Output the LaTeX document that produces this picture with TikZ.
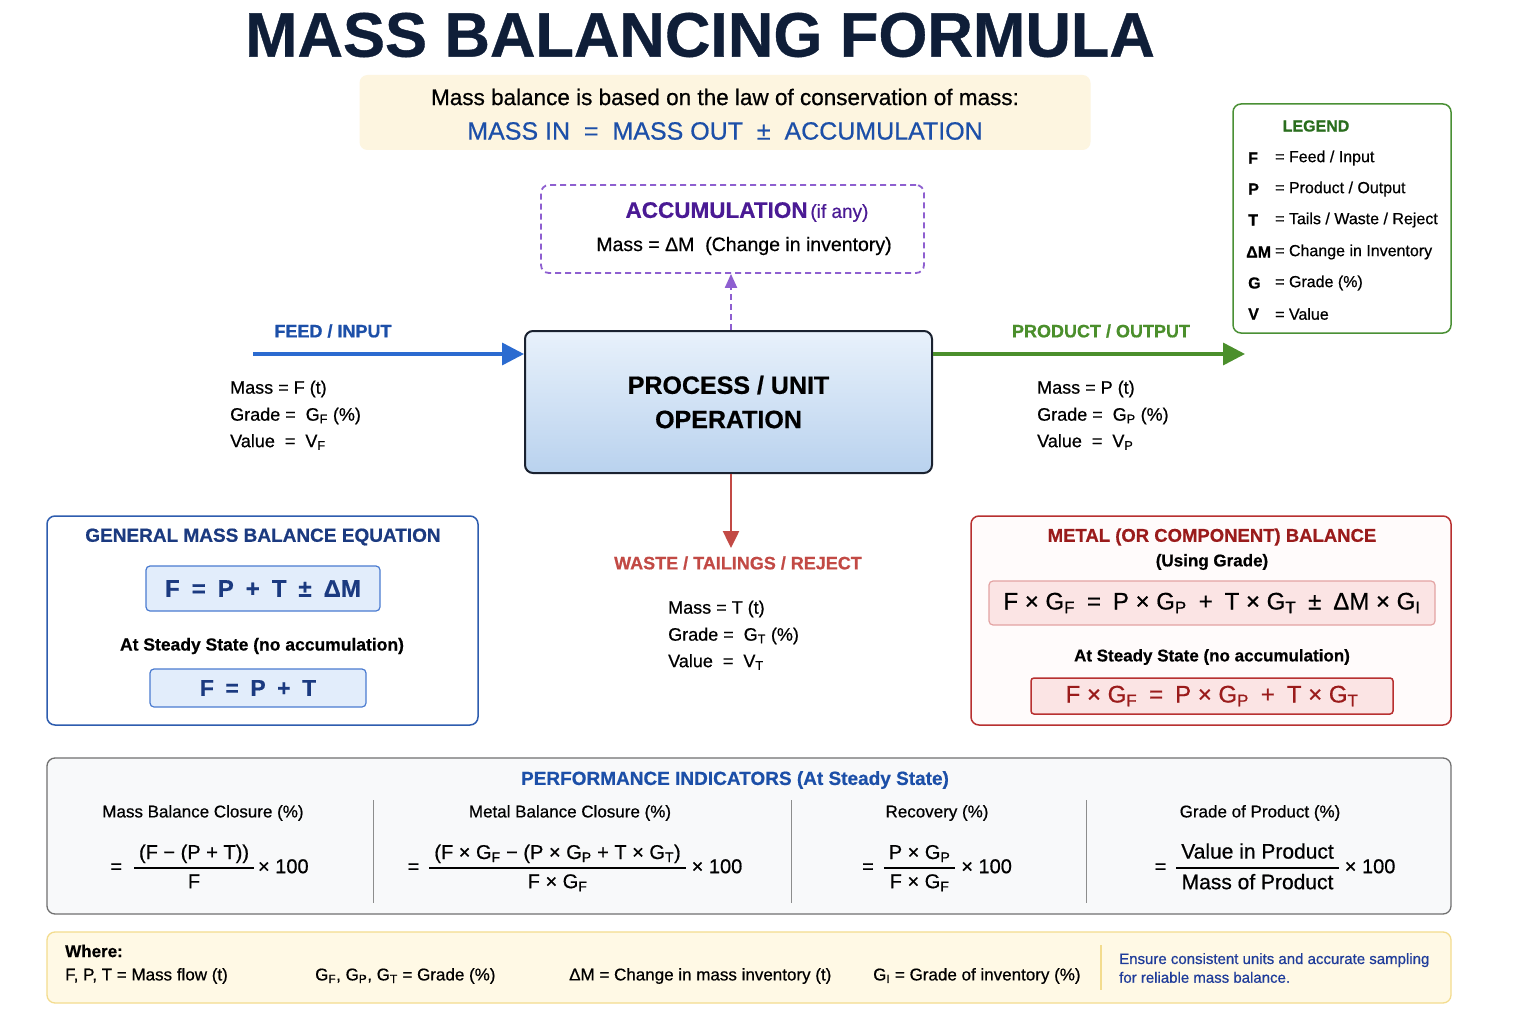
\documentclass[tikz,border=0pt]{standalone}
\usepackage{fontspec}
\setmainfont{Liberation Sans}[FakeBold=0.6]
\usetikzlibrary{arrows.meta}
\newcommand\fsz[1]{\fontsize{#1}{#1}\selectfont\setlength\baselineskip{1.25\baselineskip}}
\newcommand\sep{\hspace{0.5em}}
\setlength{\tabcolsep}{5pt}
\setlength{\arrayrulewidth}{1.2pt}
\renewcommand{\arraystretch}{1.4}
\definecolor{titlenavy}{HTML}{0F1E38}
\definecolor{cream}{HTML}{FDF5E0}
\definecolor{mblue}{HTML}{1C4FA8}
\definecolor{lgreen}{HTML}{4A9035}
\definecolor{dgreen}{HTML}{2A6E1E}
\definecolor{accpurple}{HTML}{8E5FD0}
\definecolor{dpurple}{HTML}{4A1A94}
\definecolor{procborder}{HTML}{1A2230}
\definecolor{proctop}{HTML}{E8F1FB}
\definecolor{procbot}{HTML}{B9D2EE}
\definecolor{feedblue}{HTML}{2B6BD0}
\definecolor{prodgreen}{HTML}{4B8F2C}
\definecolor{wastered}{HTML}{C24A45}
\definecolor{genblue}{HTML}{2E5DAF}
\definecolor{gennavy}{HTML}{1B3A80}
\definecolor{geninner}{HTML}{E2EDFB}
\definecolor{geninnerb}{HTML}{4A7BD0}
\definecolor{metred}{HTML}{B83030}
\definecolor{metdark}{HTML}{9A1B1B}
\definecolor{metinner}{HTML}{FBE4E4}
\definecolor{metinnerb}{HTML}{E3A3A3}
\definecolor{metfill}{HTML}{FFFBFB}
\definecolor{perfgray}{HTML}{707070}
\definecolor{perffill}{HTML}{F8F9FA}
\definecolor{wherefill}{HTML}{FFF9E5}
\definecolor{whereborder}{HTML}{F3DC8E}
\definecolor{noteblue}{HTML}{1F3C9A}
\begin{document}
\begin{tikzpicture}[x=1pt,y=-1pt,
  box/.style={rounded corners=8pt, inner sep=0pt, line width=1.5pt},
  txt/.style={inner sep=0pt},
  flow/.style={line width=3.5pt, -{Triangle[length=22pt,width=22pt]}},
  divider/.style={draw=perfgray!80, line width=1pt},
  lst/.style={inner sep=0pt, anchor=west, font=\fsz{18}},
  leg/.style={inner sep=0pt, anchor=west, font=\fsz{16}},
  legk/.style={inner sep=0pt, anchor=west, font=\bfseries\fsz{16}},
  coltitle/.style={inner sep=0pt, font=\fsz{17}},
  fracnode/.style={inner sep=0pt, font=\fsz{20}},
  wh/.style={inner sep=0pt, anchor=west, font=\fsz{17}}
]
\useasboundingbox[fill=white] (0,0) rectangle (1536,1024);

% title
\node[txt, font=\bfseries\fsz{63}, text=titlenavy] (title) at (700,35) {MASS BALANCING FORMULA};

% intro
\node[box, fill=cream, draw=none, minimum width=731pt, minimum height=75pt] (intro) at (725,112.5) {};
\node[txt, font=\fsz{22.5}] (introtext) at (725,97) {Mass balance is based on the law of conservation of mass:};
\node[txt, font=\fsz{25}, text=mblue] (introeq) at (725,131) {MASS IN\ \ =\ \ MASS OUT\ \ ±\ \ ACCUMULATION};

% legend
\node[box, draw=lgreen, fill=white, minimum width=218pt, minimum height=229pt] (legend) at (1342,218.5) {};
\node[txt, font=\bfseries\fsz{16}, text=dgreen] (legtitle) at (1316,126) {LEGEND};
\node[legk] (kF) at (1248,158) {F};
\node[leg] (vF) at (1275,158) {= Feed / Input};
\node[legk] (kP) at (1248,189) {P};
\node[leg] (vP) at (1275,189) {= Product / Output};
\node[legk] (kT) at (1248,220) {T};
\node[leg] (vT) at (1275,220) {= Tails / Waste / Reject};
\node[legk] (kM) at (1246,252) {ΔM};
\node[leg] (vM) at (1275,252) {= Change in Inventory};
\node[legk] (kG) at (1248,283) {G};
\node[leg] (vG) at (1275,283) {= Grade (\%)};
\node[legk] (kV) at (1248,314) {V};
\node[leg] (vV) at (1275,314) {= Value};

% accumulation
\node[box, draw=accpurple, dash pattern=on 6pt off 4pt, line width=1.8pt, minimum width=383pt, minimum height=88pt] (acc) at (732.5,229) {};
\node[txt, text=dpurple] (acctitle) at (747,212) {{\bfseries\fsz{22.5}ACCUMULATION} {\fsz{19}(if any)}};
\node[txt, font=\fsz{19.5}] (acctext) at (744,246) {Mass\ =\ ΔM\ \ (Change in inventory)};

% process
\node[box, draw=procborder, line width=2pt, top color=proctop, bottom color=procbot, minimum width=407pt, minimum height=142pt, align=center, font=\bfseries\fsz{25}] (proc) at (728.5,402) {PROCESS / UNIT\\[3pt]OPERATION};

% arrows
\coordinate (feedstart) at (253,354);
\draw[flow, feedblue] (feedstart) -- (proc.west |- feedstart);
\coordinate (prodend) at (1245,354);
\draw[flow, prodgreen] (proc.east |- prodend) -- (prodend);
\coordinate (wasteend) at (731,548);
\draw[wastered, line width=2.5pt, -{Triangle[length=17pt,width=16pt]}] (proc.south -| wasteend) -- (wasteend);
\coordinate (accx) at (731,300);
\draw[accpurple, line width=2pt, dash pattern=on 6pt off 4pt, -{Triangle[length=14pt,width=12pt]}] (proc.north -| accx) -- (acc.south -| accx);

% stream labels
\node[txt, font=\bfseries\fsz{18}, text=mblue] (feedlbl) at (333,331) {FEED / INPUT};
\node[txt, font=\bfseries\fsz{18}, text=prodgreen] (prodlbl) at (1101,331) {PRODUCT / OUTPUT};
\node[txt, font=\bfseries\fsz{18}, text=wastered] (wastelbl) at (738,563) {WASTE / TAILINGS / REJECT};

\node[lst] (fm) at (230,389) {Mass = F (t)};
\node[lst] (fg) at (230,416) {Grade =\ \ G\textsubscript{F} (\%)};
\node[lst] (fv) at (230,442) {Value\ \ =\ \ V\textsubscript{F}};
\node[lst] (pm) at (1037,389) {Mass = P (t)};
\node[lst] (pg) at (1037,416) {Grade =\ \ G\textsubscript{P} (\%)};
\node[lst] (pv) at (1037,442) {Value\ \ =\ \ V\textsubscript{P}};
\node[lst] (tm) at (668,609) {Mass = T (t)};
\node[lst] (tg) at (668,636) {Grade =\ \ G\textsubscript{T} (\%)};
\node[lst] (tv) at (668,662) {Value\ \ =\ \ V\textsubscript{T}};

% general box
\node[box, draw=genblue, fill=white, minimum width=431pt, minimum height=209pt] (genbox) at (262.5,620.5) {};
\node[txt, font=\bfseries\fsz{19}, text=gennavy] (gentitle) at (263,537) {GENERAL MASS BALANCE EQUATION};
\node[box, rounded corners=4pt, line width=1.2pt, draw=geninnerb, fill=geninner, minimum width=234pt, minimum height=45pt, font=\bfseries\fsz{24}, text=gennavy] (geneq) at (263,588.5) {F\sep=\sep P\sep+\sep T\sep±\sep ΔM};
\node[txt, font=\bfseries\fsz{17.5}] (genss) at (262,646) {At Steady State (no accumulation)};
\node[box, rounded corners=4pt, line width=1.2pt, draw=geninnerb, fill=geninner, minimum width=216pt, minimum height=38pt, font=\bfseries\fsz{23}, text=gennavy] (geneq2) at (258,688) {F\sep=\sep P\sep+\sep T};

% metal box
\node[box, draw=metred, fill=metfill, minimum width=480pt, minimum height=209pt] (metbox) at (1211,620.5) {};
\node[txt, font=\bfseries\fsz{18.5}, text=metdark] (mettitle) at (1212,537) {METAL (OR COMPONENT) BALANCE};
\node[txt, font=\bfseries\fsz{17}] (metsub) at (1212,562) {(Using Grade)};
\node[box, rounded corners=4pt, line width=1.2pt, draw=metinnerb, fill=metinner, minimum width=446pt, minimum height=44pt, font=\fsz{24}] (meteq) at (1212,603) {F × G\textsubscript{F}\sep=\sep P × G\textsubscript{P}\sep+\sep T × G\textsubscript{T}\sep±\sep ΔM × G\textsubscript{I}};
\node[txt, font=\bfseries\fsz{17}] (metss) at (1212,657) {At Steady State (no accumulation)};
\node[box, rounded corners=3pt, line width=1.5pt, draw=metred, fill=metinner, minimum width=362pt, minimum height=36pt, font=\fsz{24}, text=metdark] (meteq2) at (1212,696) {F × G\textsubscript{F}\sep=\sep P × G\textsubscript{P}\sep+\sep T × G\textsubscript{T}};

% performance indicators
\node[box, draw=perfgray, line width=1.3pt, fill=perffill, minimum width=1404pt, minimum height=156pt] (perf) at (749,836) {};
\node[txt, font=\bfseries\fsz{19}, text=mblue] (perftitle) at (735,780) {PERFORMANCE INDICATORS (At Steady State)};
\coordinate (d1t) at (373,800); \coordinate (d1b) at (373,903);
\coordinate (d2t) at (791,800); \coordinate (d2b) at (791,903);
\coordinate (d3t) at (1086,800); \coordinate (d3b) at (1086,903);
\draw[divider] (d1t) -- (d1b);
\draw[divider] (d2t) -- (d2b);
\draw[divider] (d3t) -- (d3b);

\node[coltitle] (c1t) at (203,813) {Mass Balance Closure (\%)};
\node[coltitle] (c2t) at (570,813) {Metal Balance Closure (\%)};
\node[coltitle] (c3t) at (937,813) {Recovery (\%)};
\node[coltitle] (c4t) at (1260,813) {Grade of Product (\%)};

\node[fracnode] (c1f) at (209.5,868) {=\hspace{12pt}\begin{tabular}{c}(F − (P + T))\\\hline F\end{tabular}\hspace{4pt}× 100};
\node[fracnode] (c2f) at (575,868) {=\hspace{10pt}\begin{tabular}{c}(F × G\textsubscript{F} − (P × G\textsubscript{P} + T × G\textsubscript{T})\\\hline F × G\textsubscript{F}\end{tabular}\hspace{6pt}× 100};
\node[fracnode] (c3f) at (937,868) {=\hspace{10pt}\begin{tabular}{c}P × G\textsubscript{P}\\\hline F × G\textsubscript{F}\end{tabular}\hspace{6pt}× 100};
\node[fracnode] (c4f) at (1275,868) {=\hspace{10pt}{\fsz{21}\begin{tabular}{c}Value in Product\\\hline Mass of Product\end{tabular}}\hspace{6pt}× 100};

% where box
\node[box, draw=whereborder, line width=1.3pt, fill=wherefill, minimum width=1404pt, minimum height=71pt] (where) at (749,967.5) {};
\node[wh, font=\bfseries\fsz{17}] (wtitle) at (65,951) {Where:};
\node[wh] (w1) at (65,976) {F, P, T\ = Mass flow (t)};
\node[wh] (w2) at (315,976) {G\textsubscript{F}, G\textsubscript{P}, G\textsubscript{T} = Grade (\%)};
\node[wh] (w3) at (569,976) {ΔM = Change in mass inventory (t)};
\node[wh] (w4) at (873,976) {G\textsubscript{I} = Grade of inventory (\%)};
\coordinate (wdt) at (1101,945); \coordinate (wdb) at (1101,990);
\draw[whereborder, line width=1.2pt] (wdt) -- (wdb);
\node[wh, font=\fsz{15}, text=noteblue, align=left] (note) at (1119,968) {Ensure consistent units and accurate sampling\\for reliable mass balance.};
\end{tikzpicture}
\end{document}
